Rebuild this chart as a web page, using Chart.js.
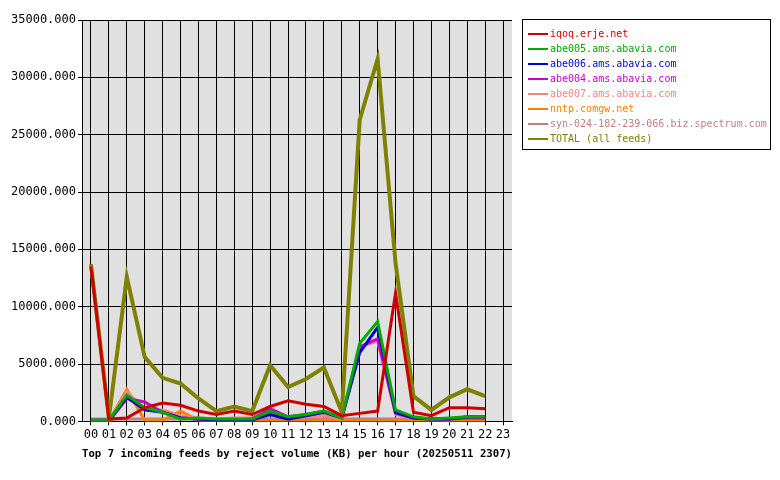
<!DOCTYPE html>
<html><head><meta charset="utf-8">
<script src="https://cdn.jsdelivr.net/npm/chart.js@4"></script>
<style>
body{margin:0;background:#fff;}
#wrap{position:relative;width:780px;height:480px;}
#legend{position:absolute;left:522px;top:19px;width:249px;height:131px;border:1px solid #000;box-sizing:border-box;font:10px "DejaVu Sans Mono",monospace;padding:6px 0 0 5px;}
#legend div{height:15px;line-height:15px;white-space:nowrap;}
#legend span.sw{display:inline-block;width:20px;height:2px;vertical-align:middle;margin-right:2px;}
</style></head>
<body><div id="wrap"><canvas id="c" width="780" height="480"></canvas><div id="legend"></div></div>
<script>
const hours = ["00","01","02","03","04","05","06","07","08","09","10","11","12","13","14","15","16","17","18","19","20","21","22","23"];
const seriesNames = ["iqoq.erje.net","abe005.ams.abavia.com","abe006.ams.abavia.com","abe004.ams.abavia.com","abe007.ams.abavia.com","nntp.comgw.net","syn-024-182-239-066.biz.spectrum.com","TOTAL (all feeds)"];
const seriesColors = ["#cc0000","#00aa00","#0000cc","#cc00cc","#ff8080","#ff8000","#c08080","#808000"];
const iqoq   = [13500,200,300,1200,1600,1400,900,600,900,600,1300,1800,1500,1300,500,700,900,11200,800,500,1200,1200,1100,null];
const abe005 = [100,100,2300,1200,800,200,300,200,200,200,900,400,600,900,300,6800,8700,1000,400,200,300,400,400,null];
const abe006 = [100,100,2100,1000,800,300,200,150,150,150,600,200,500,800,300,6000,8200,800,300,200,200,400,400,null];
const abe004 = [0,0,2000,1700,800,300,200,100,100,200,1100,400,600,900,300,6500,7200,700,300,200,200,300,300,null];
const abe007 = [0,0,2600,1000,1000,500,300,200,300,300,900,300,400,500,200,6500,7000,600,300,200,100,400,300,null];
const nntp   = [0,0,2800,100,100,900,100,0,0,0,0,0,0,0,0,0,0,0,0,0,0,0,0,null];
const syn    = [200,200,200,200,200,200,200,200,200,200,200,200,200,200,200,200,200,200,200,200,200,200,200,null];
const total  = [13700,300,12600,5600,3800,3300,2000,900,1300,900,4900,3000,3700,4700,800,26300,31600,13800,2200,1000,2100,2800,2200,null];
const yTicks = [0,5000,10000,15000,20000,25000,30000,35000];
const allData = [iqoq,abe005,abe006,abe004,abe007,nntp,syn,total];

const lg=document.getElementById('legend');
seriesNames.forEach((n,i)=>{const d=document.createElement('div');d.style.color=seriesColors[i];
d.innerHTML='<span class="sw" style="background:'+seriesColors[i]+'"></span>'+n;lg.appendChild(d);});

const bgPlugin={id:'bg',beforeDraw(ch){const a=ch.chartArea,c=ch.ctx;c.save();c.fillStyle='#e0e0e0';c.fillRect(a.left,a.top,a.right-a.left,a.bottom-a.top);c.restore();}};
const font={family:"DejaVu Sans Mono",size:12};
new Chart(document.getElementById('c'),{
 type:'line',
 data:{labels:hours,datasets:allData.map((d,i)=>({label:seriesNames[i],data:d,borderColor:seriesColors[i],backgroundColor:seriesColors[i],borderWidth:i===7?4:3,pointRadius:0,tension:0,order:i===0?-1:(i===7?0:1)}))},
 options:{responsive:false,animation:false,
  layout:{padding:{left:0,right:268,top:20,bottom:15}},
  plugins:{legend:{display:false},tooltip:{enabled:false}},
  scales:{
   x:{offset:true,grid:{color:'#000',offset:false,drawTicks:true,tickLength:4},border:{color:'#000'},
      ticks:{color:'#000',font,maxRotation:0,autoSkip:false,padding:2},
      title:{display:true,text:'Top 7 incoming feeds by reject volume (KB) per hour (20250511 2307)',color:'#000',font:{family:"DejaVu Sans Mono",size:11,weight:'bold'},padding:{top:4}}},
   y:{min:0,max:35000,afterBuildTicks(s){s.ticks=yTicks.map(v=>({value:v}));},afterFit(s){s.width=82;},
      grid:{color:'#000',tickLength:4},border:{color:'#000'},
      ticks:{color:'#000',font,padding:2,callback:v=>v.toFixed(3)}}
  }},
 plugins:[bgPlugin]
});
</script></body></html>
